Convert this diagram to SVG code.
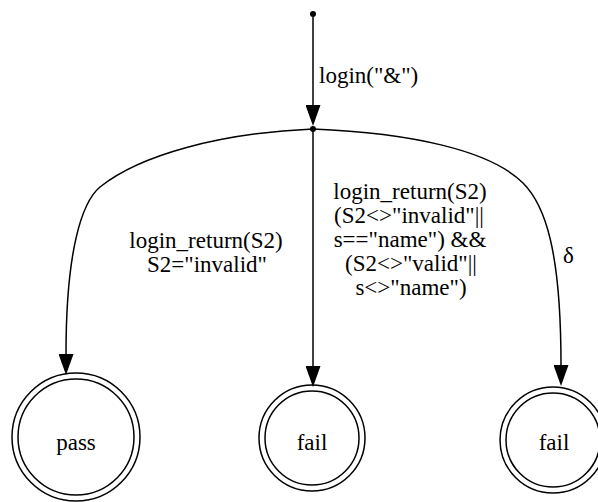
<svg xmlns="http://www.w3.org/2000/svg" width="598" height="502" viewBox="0 0 598 502">
<style>
.edge{fill:none;stroke:#000;stroke-width:1.5;marker-end:url(#arr)}
.ring{fill:none;stroke:#000;stroke-width:1.5}
.m{text-anchor:middle}
</style>
<defs>
<marker id="arr" viewBox="0 0 21 15" markerWidth="21" markerHeight="15" markerUnits="userSpaceOnUse" refX="0" refY="7.5" orient="auto">
<path d="M0,0 L21,7.5 L0,15 z" fill="#000"/>
</marker>
</defs>
<rect width="598" height="502" fill="#fff"/>
<g id="connectors">
<path class="edge" d="M313,17 L313,105"/>
<path class="edge" d="M313,129 L313,366"/>
<path class="edge" d="M313,129 C220,133 140,155 100,187 C82,202 66,250 66,354"/>
<path class="edge" d="M313,129 C410,133 490,150 523,183 C545,205 561,250 561,365"/>
<g font-family="'Liberation Serif', 'Times New Roman', Times, serif" font-size="23" fill="#000">
<text x="319" y="83">login("&amp;")</text>
<text class="m" x="206" y="248">login_return(S2)</text>
<text class="m" x="207" y="272">S2="invalid"</text>
<text class="m" x="410" y="199">login_return(S2)</text>
<text class="m" x="409" y="223">(S2&lt;&gt;"invalid"||</text>
<text class="m" x="410" y="247">s=="name") &amp;&amp;</text>
<text class="m" x="411" y="271">(S2&lt;&gt;"valid"||</text>
<text class="m" x="411" y="295">s&lt;&gt;"name")</text>
<text x="563" y="263">δ</text>
</g>
</g>
<g id="start"><circle cx="313" cy="14" r="3" fill="#000"/></g>
<g id="junction"><circle cx="313" cy="129" r="3" fill="#000"/></g>
<g font-family="'Liberation Serif', 'Times New Roman', Times, serif" font-size="23" fill="#000" text-anchor="middle">
<g id="pass">
<circle class="ring" cx="76" cy="437" r="64"/>
<circle class="ring" cx="76" cy="437" r="58"/>
<text x="76" y="450">pass</text>
</g>
<g id="fail1">
<circle class="ring" cx="312" cy="438" r="53"/>
<circle class="ring" cx="312" cy="438" r="47"/>
<text x="312" y="450">fail</text>
</g>
<g id="fail2">
<circle class="ring" cx="553" cy="440" r="53"/>
<circle class="ring" cx="553" cy="440" r="47"/>
<text x="554" y="450">fail</text>
</g>
</g>
</svg>
